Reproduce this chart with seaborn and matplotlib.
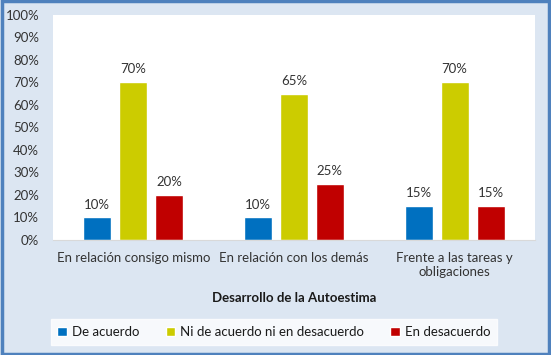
import pandas as pd
import matplotlib.pyplot as plt
import seaborn as sns
from matplotlib.patches import Rectangle
from matplotlib.ticker import PercentFormatter

categorias = ["En relación consigo mismo", "En relación con los demás", "Frente a las tareas y\nobligaciones"]
series = ["De acuerdo", "Ni de acuerdo ni en desacuerdo", "En desacuerdo"]
de_acuerdo = [10, 10, 15]
ni_ni = [70, 65, 70]
desacuerdo = [20, 25, 15]
colores = ["#0070C0", "#CCCC00", "#C00000"]

df = pd.DataFrame({
    "cat": categorias * 3,
    "serie": [series[0]] * 3 + [series[1]] * 3 + [series[2]] * 3,
    "valor": de_acuerdo + ni_ni + desacuerdo,
})

sns.set_style("white")
plt.rcParams["font.family"] = ["Lato", "DejaVu Sans"]

fig = plt.figure(figsize=(5.51, 3.55), dpi=100, facecolor="#DCE6F2")
fig.patches.append(Rectangle((0.003, 0.004), 0.994, 0.992, transform=fig.transFigure,
                             fill=False, edgecolor="#4F81BD", linewidth=2.5))
ax = fig.add_axes([0.096, 0.324, 0.875, 0.634])
sns.barplot(data=df, x="cat", y="valor", hue="serie", palette=colores,
            width=0.67, gap=0.22, ax=ax, saturation=1)

for cont in ax.containers:
    ax.bar_label(cont, labels=[f"{int(v)}%" for v in cont.datavalues],
                 padding=5, fontsize=9.5, color="#333333")

ax.set_ylim(0, 100)
ax.set_yticks(range(0, 101, 10))
ax.yaxis.set_major_formatter(PercentFormatter(decimals=0))
ax.tick_params(axis="both", labelsize=9.5, colors="#333333", length=0)
ax.tick_params(axis="y", pad=10)
ax.tick_params(axis="x", pad=9)
ax.set_ylabel("")
ax.set_xlabel("Desarrollo de la Autoestima", fontsize=9.5, fontweight="bold",
              color="#1a1a1a", labelpad=10)
for s in ["top", "right", "left"]:
    ax.spines[s].set_visible(False)
ax.spines["bottom"].set_color("#D9D9D9")

ax.legend_.remove()
h, l = ax.get_legend_handles_labels()
leg = fig.legend(h, l, loc="center", bbox_to_anchor=(0.497, 0.065), ncol=3,
                 frameon=True, fontsize=9.5, handlelength=0.7, handleheight=0.7,
                 columnspacing=2.0, handletextpad=0.4, borderpad=0.5)
leg.get_frame().set_facecolor("white")
leg.get_frame().set_edgecolor("white")
leg.get_frame().set_boxstyle("square", pad=0)
for t in leg.get_texts():
    t.set_color("#1a1a1a")

fig.savefig("out.png", dpi=100, facecolor=fig.get_facecolor())
